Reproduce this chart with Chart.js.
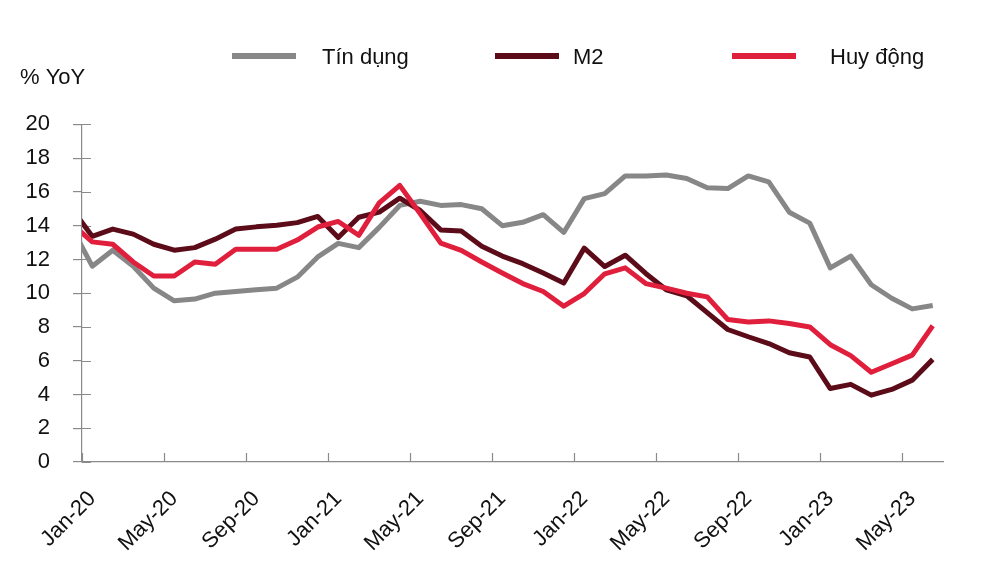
<!DOCTYPE html>
<html>
<head>
<meta charset="utf-8">
<script src="https://cdn.jsdelivr.net/npm/chart.js@4"></script>
<style>
  body { margin: 0; background: #fff; }
  #wrap { position: relative; width: 1000px; height: 575px; font-family: 'Liberation Sans', Arial, sans-serif; }
  #legend .line { position: absolute; top: 53px; height: 6px; width: 64px; }
  #legend .txt { position: absolute; top: 44px; font-size: 22px; line-height: 26px; color: #111; white-space: nowrap; }
</style>
</head>
<body>
<div id="wrap">
  <canvas id="myChart" width="1000" height="575"></canvas>
  <div id="legend"></div>
</div>
<script>
// thang Dec-19 chi de ve doan dau bi cat o truc tung
const months = ['Dec-19',
  'Jan-20','Feb-20','Mar-20','Apr-20','May-20','Jun-20','Jul-20','Aug-20','Sep-20','Oct-20','Nov-20','Dec-20',
  'Jan-21','Feb-21','Mar-21','Apr-21','May-21','Jun-21','Jul-21','Aug-21','Sep-21','Oct-21','Nov-21','Dec-21',
  'Jan-22','Feb-22','Mar-22','Apr-22','May-22','Jun-22','Jul-22','Aug-22','Sep-22','Oct-22','Nov-22','Dec-22',
  'Jan-23','Feb-23','Mar-23','Apr-23','May-23','Jun-23']
const tickLabels = ['Jan-20','May-20','Sep-20','Jan-21','May-21','Sep-21','Jan-22','May-22','Sep-22','Jan-23','May-23']
const yTicks = [0, 2, 4, 6, 8, 10, 12, 14, 16, 18, 20]

const tinDung = [13.9,
  11.6, 12.55, 11.6, 10.3, 9.55, 9.65, 10.0, 10.1, 10.2, 10.3, 10.95, 12.15,
  12.95, 12.7, 13.9, 15.2, 15.45, 15.2, 15.25, 15.0, 14.0, 14.2, 14.65, 13.6,
  15.6, 15.9, 16.95, 16.95, 17.0, 16.8, 16.25, 16.2, 16.95, 16.6, 14.8, 14.15,
  11.5, 12.2, 10.5, 9.7, 9.07, 9.27]
const m2 = [15.0,
  13.37, 13.8, 13.5, 12.9, 12.55, 12.7, 13.2, 13.8, 13.93, 14.02, 14.18, 14.55,
  13.3, 14.5, 14.8, 15.63, 14.9, 13.75, 13.68, 12.78, 12.2, 11.75, 11.2, 10.6,
  12.67, 11.58, 12.25, 11.17, 10.2, 9.85, 8.85, 7.85, 7.42, 7.02, 6.47, 6.22,
  4.35, 4.6, 3.96, 4.3, 4.85, 6.08]
const huyDong = [14.1,
  13.04, 12.9, 11.85, 11.02, 11.02, 11.85, 11.72, 12.6, 12.6, 12.6, 13.15, 13.92,
  14.25, 13.43, 15.35, 16.39, 14.7, 12.97, 12.54, 11.85, 11.2, 10.57, 10.1, 9.23,
  9.98, 11.15, 11.5, 10.57, 10.3, 10.0, 9.78, 8.44, 8.3, 8.36, 8.2, 8.0,
  6.95, 6.3, 5.32, 5.82, 6.33, 8.07]

const axisColor = '#8a8a8a'
const textColor = '#111'
const font = { family: "'Liberation Sans', Arial, sans-serif", size: 22 }

// vach chia huong vao trong cua hai truc
const innerTicks = {
  id: 'innerTicks',
  beforeDatasetsDraw(chart){
    const { ctx, chartArea, scales: { x, y } } = chart
    ctx.save()
    ctx.strokeStyle = axisColor
    ctx.lineWidth = 1.2
    ctx.beginPath()
    yTicks.forEach(v => {
      const py = Math.round(y.getPixelForValue(v)) + 0.5
      ctx.moveTo(chartArea.left, py)
      ctx.lineTo(chartArea.left + 9, py)
    })
    const half = (x.getPixelForValue(2) - x.getPixelForValue(1)) / 2
    months.forEach((m, i) => {
      if(tickLabels.includes(m)){
        const px = Math.round(x.getPixelForValue(i) - half) + 0.5
        ctx.moveTo(px, chartArea.bottom)
        ctx.lineTo(px, chartArea.bottom - 9)
      }
    })
    ctx.stroke()
    ctx.restore()
  }
}

const ctx = document.getElementById('myChart')
const chart = new Chart(ctx, {
  type: 'line',
  data: {
    labels: months,
    datasets: [
      { label: 'Tín dụng', data: tinDung, borderColor: '#878787', order: 3 },
      { label: 'M2', data: m2, borderColor: '#5c0c19', order: 2 },
      { label: 'Huy động', data: huyDong, borderColor: '#e01f3d', order: 1 }
    ]
  },
  options: {
    responsive: false,
    animation: false,
    devicePixelRatio: 1,
    layout: { padding: { left: 20, right: 57, top: 0, bottom: 0 } },
    datasets: {
      line: {
        borderWidth: 5,
        pointRadius: 0,
        tension: 0,
        borderJoinStyle: 'round',
        clip: { left: 0, right: 10, top: 10, bottom: 10 }
      }
    },
    scales: {
      x: {
        type: 'category',
        min: 'Jan-20',
        offset: true,
        grid: { display: true, drawOnChartArea: false, drawTicks: false, offset: true, color: 'transparent' },
        border: { display: true, color: axisColor, width: 1.2 },
        ticks: {
          autoSkip: false,
          minRotation: 45,
          maxRotation: 45,
          padding: 24,
          color: textColor,
          font,
          callback: function(value){
            const lab = this.getLabelForValue(value)
            return tickLabels.includes(lab) ? lab : ''
          }
        },
        afterFit(scale){ scale.height = 113 }
      },
      y: {
        min: 0,
        max: 20,
        afterBuildTicks(scale){ scale.ticks = yTicks.map(v => ({ value: v })) },
        grid: { drawOnChartArea: false, drawTicks: true, tickLength: 9, color: axisColor, lineWidth: 1.2 },
        border: { display: true, color: axisColor, width: 1.2 },
        ticks: { padding: 23, color: textColor, font },
        afterFit(scale){ scale.width = 62 }
      }
    },
    plugins: {
      legend: { display: false },
      tooltip: { enabled: false },
      title: {
        display: true,
        text: '% YoY',
        align: 'start',
        color: textColor,
        font: { family: font.family, size: 22, weight: 'normal', lineHeight: 1.2 },
        padding: { top: 65, bottom: 33 }
      }
    }
  },
  plugins: [innerTicks]
})

// chu giai dung HTML, vi tri theo hinh goc
const legendPos = [
  { line: 232, text: 322 },
  { line: 495, text: 573 },
  { line: 732, text: 830 }
]
const legendEl = document.getElementById('legend')
chart.data.datasets.forEach((ds, i) => {
  const line = document.createElement('div')
  line.className = 'line'
  line.style.left = legendPos[i].line + 'px'
  line.style.background = ds.borderColor
  const txt = document.createElement('div')
  txt.className = 'txt'
  txt.style.left = legendPos[i].text + 'px'
  txt.textContent = ds.label
  legendEl.appendChild(line)
  legendEl.appendChild(txt)
})
</script>
</body>
</html>
